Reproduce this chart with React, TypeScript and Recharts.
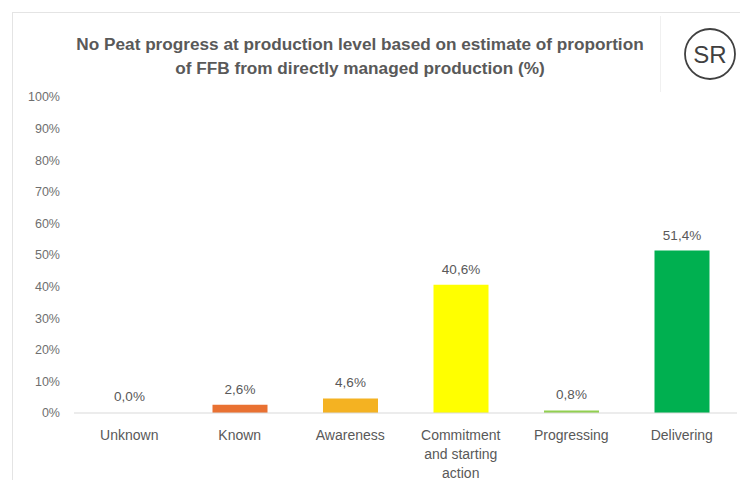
import { Bar, BarChart, Cell, LabelList, XAxis, YAxis } from 'recharts'

const categories = ['Unknown', 'Known', 'Awareness', 'Commitment and starting action', 'Progressing', 'Delivering']
const shares = [0.0, 2.6, 4.6, 40.6, 0.8, 51.4]
const barColors = ['transparent', '#e97132', '#f4b222', '#ffff00', '#92d050', '#00b050']
const yTicks = [0, 10, 20, 30, 40, 50, 60, 70, 80, 90, 100]

const data = categories.map((name, i) => ({ name, value: shares[i], color: barColors[i] }))

const font = '"Liberation Sans", Arial, sans-serif'
const grey = '#595959'

function wrap(label: string, max: number) {
  const words = label.split(' ')
  const lines: string[] = []
  let cur = ''
  for (const w of words) {
    const next = cur ? cur + ' ' + w : w
    if (next.length > max && cur) {
      lines.push(cur)
      cur = w
    } else cur = next
  }
  if (cur) lines.push(cur)
  return lines
}

const CategoryTick = (props: any) => {
  const { x, y, payload } = props
  const lines = wrap(String(payload.value), 12)
  return (
    <text x={x} y={y + 19} textAnchor="middle" fill={grey} fontSize={14} fontFamily={font}>
      {lines.map((l, i) => (
        <tspan key={i} x={x} dy={i === 0 ? 0 : 19}>
          {l}
        </tspan>
      ))}
    </text>
  )
}

export default function App() {
  return (
    <div style={{ position: 'relative', margin: -8, width: 748, height: 488, background: '#fff' }}>
      <svg width={748} height={488} style={{ position: 'absolute', left: 0, top: 0 }}>
        <rect x={12.5} y={12.5} width={733} height={472} fill="none" stroke="#e4e4e4" />
        <line x1={660.5} y1={16} x2={660.5} y2={92} stroke="#f0f0f0" />
        <text x={360} y={50} textAnchor="middle" fill={grey} fontSize={17.2} fontWeight="bold" fontFamily={font}>
          No Peat progress at production level based on estimate of proportion
        </text>
        <text x={360} y={74} textAnchor="middle" fill={grey} fontSize={17.2} fontWeight="bold" fontFamily={font}>
          of FFB from directly managed production (%)
        </text>
        <circle cx={710} cy={54} r={25} fill="none" stroke="#404040" strokeWidth={1.8} />
        <text x={710} y={63} textAnchor="middle" fill="#404040" fontSize={24} fontFamily={font}>
          SR
        </text>
      </svg>
      <BarChart
        width={748}
        height={488}
        data={data}
        margin={{ top: 97, right: 11, left: 12, bottom: 15 }}
        style={{ position: 'absolute', left: 0, top: 0 }}
      >
        <XAxis
          dataKey="name"
          interval={0}
          height={60}
          tick={CategoryTick}
          tickLine={false}
          axisLine={{ stroke: '#d9d9d9' }}
        />
        <YAxis
          width={62}
          domain={[0, 100]}
          ticks={yTicks}
          tickFormatter={(v) => `${v}%`}
          tick={{ fill: '#6f6f6f', fontSize: 12.5, fontFamily: font, dx: -6 }}
          axisLine={false}
          tickLine={false}
        />
        <Bar dataKey="value" barSize={55} minPointSize={1} fill="#00b050" isAnimationActive={false}>
          {data.map((d) => (
            <Cell key={d.name} fill={d.color} />
          ))}
          <LabelList
            dataKey="value"
            position="top"
            offset={11}
            formatter={(v: any) => `${Number(v).toFixed(1).replace('.', ',')}%`}
            style={{ fill: grey, fontSize: 13.5, fontFamily: font }}
          />
        </Bar>
      </BarChart>
    </div>
  )
}
